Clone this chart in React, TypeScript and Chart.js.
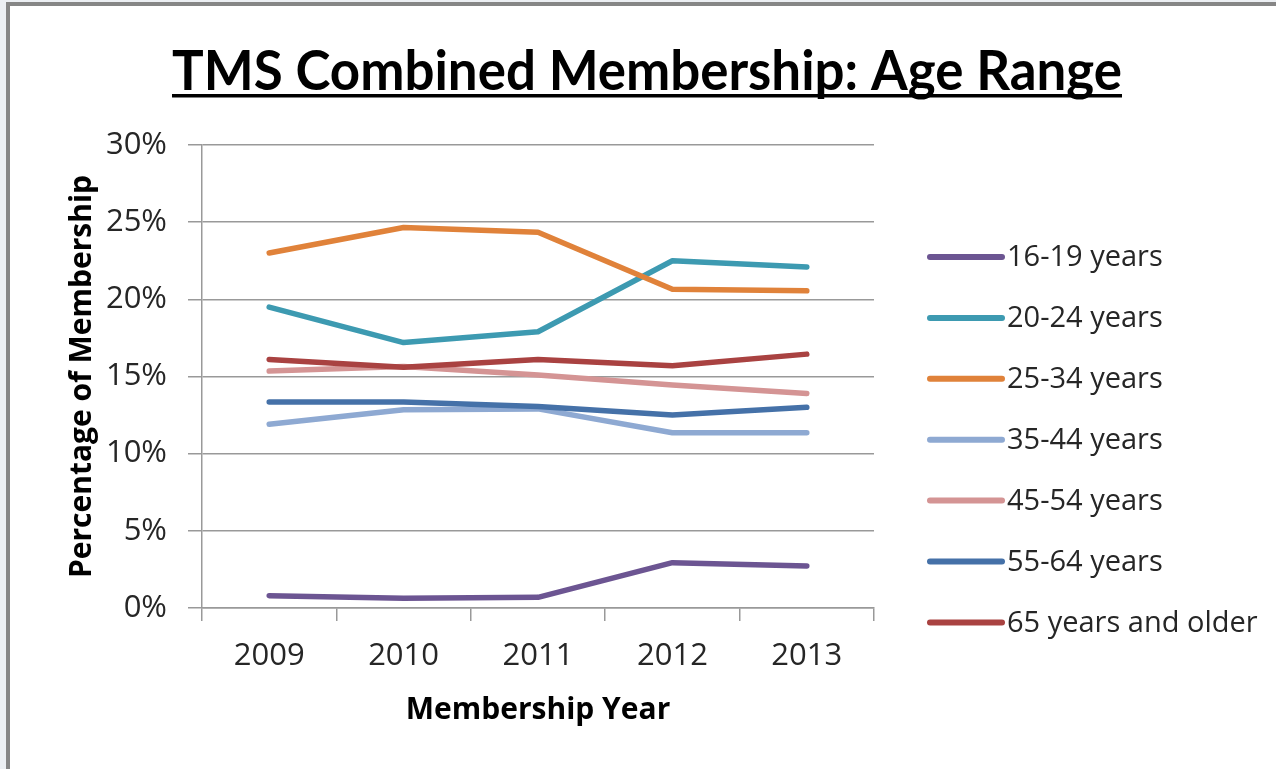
import React, { useEffect, useRef } from 'react';
import { Chart, registerables } from 'chart.js';

Chart.register(...registerables);

// ---- data ----
const years = ['2009', '2010', '2011', '2012', '2013'];
const seriesNames = [
  '16-19 years',
  '20-24 years',
  '25-34 years',
  '35-44 years',
  '45-54 years',
  '55-64 years',
  '65 years and older',
];
const age16to19 = [0.8, 0.63, 0.69, 2.94, 2.72];
const age20to24 = [19.5, 17.2, 17.9, 22.5, 22.1];
const age25to34 = [23.0, 24.65, 24.35, 20.65, 20.55];
const age35to44 = [11.9, 12.85, 12.9, 11.35, 11.35];
const age45to54 = [15.35, 15.65, 15.1, 14.45, 13.9];
const age55to64 = [13.35, 13.35, 13.05, 12.5, 13.0];
const age65plus = [16.1, 15.6, 16.1, 15.7, 16.45];
const seriesValues = [age16to19, age20to24, age25to34, age35to44, age45to54, age55to64, age65plus];
const seriesColors = ['#6c5592', '#3d9ab1', '#e0823a', '#8ea9d2', '#d49494', '#4571a8', '#a94241'];
const yMin = 0;
const yMax = 30;
const yStep = 5;
const chartTitle = 'TMS Combined Membership: Age Range';
const xTitle = 'Membership Year';
const yTitle = 'Percentage of Membership';

const TEXT = '#262626';
const GRID = '#999999';
const REG_FONT = '"Open Sans", "DejaVu Sans", sans-serif';

const titlePlugin = {
  id: 'customTitle',
  afterDraw(chart: any) {
    const ctx = chart.ctx;
    ctx.save();
    ctx.font = 'bold 55px Lato, "Open Sans", sans-serif';
    ctx.fillStyle = '#000';
    ctx.textBaseline = 'alphabetic';
    ctx.textAlign = 'center';
    const targetW = 950;
    const w = ctx.measureText(chartTitle).width;
    const sx = targetW / w;
    const cx = 647;
    ctx.translate(cx, 90);
    ctx.scale(sx, 1);
    ctx.fillText(chartTitle, 0, 0);
    ctx.restore();
    ctx.save();
    ctx.fillStyle = '#000';
    ctx.fillRect(cx - targetW / 2, 94, targetW, 3.5);
    ctx.restore();
  },
};

const legendPlugin = {
  id: 'customLegend',
  afterDraw(chart: any) {
    const ctx = chart.ctx;
    const area = chart.chartArea;
    const x0 = area.right + 56;
    const x1 = area.right + 128;
    const top = area.top + 112;
    const gap = 60.9;
    ctx.save();
    ctx.font = '29px ' + REG_FONT;
    ctx.textBaseline = 'middle';
    ctx.textAlign = 'left';
    chart.data.datasets.forEach((ds: any, i: number) => {
      const y = top + i * gap;
      ctx.strokeStyle = ds.borderColor;
      ctx.lineWidth = 6;
      ctx.lineCap = 'round';
      ctx.beginPath();
      ctx.moveTo(x0, y);
      ctx.lineTo(x1, y);
      ctx.stroke();
      ctx.fillStyle = TEXT;
      ctx.fillText(ds.label, x1 + 5, y + 1);
    });
    ctx.restore();
  },
};

export default function App() {
  const canvasRef = useRef<HTMLCanvasElement | null>(null);

  useEffect(() => {
    if (!canvasRef.current) return;
    const datasets = seriesNames.map((name, i) => ({
      label: name,
      data: seriesValues[i],
      borderColor: seriesColors[i],
      backgroundColor: seriesColors[i],
      borderWidth: 5.5,
      borderCapStyle: 'round' as const,
      borderJoinStyle: 'round' as const,
      pointRadius: 0,
      pointHoverRadius: 0,
      tension: 0,
      fill: false,
      order: -i,
    }));

    const chart = new Chart(canvasRef.current, {
      type: 'line',
      data: { labels: years, datasets },
      options: {
        responsive: false,
        animation: false,
        devicePixelRatio: 1,
        layout: { padding: { left: 0, right: 402, top: 145, bottom: 0 } },
        plugins: {
          legend: { display: false },
          title: { display: false },
          tooltip: { enabled: false },
        },
        scales: {
          x: {
            type: 'category',
            offset: true,
            afterFit: (scale: any) => {
              scale.height = 161;
            },
            grid: {
              offset: true,
              drawOnChartArea: false,
              drawTicks: true,
              tickLength: 13,
              color: GRID,
              lineWidth: 1.5,
            },
            border: { display: true, color: GRID, width: 1.5 },
            ticks: {
              color: TEXT,
              font: { family: REG_FONT, size: 31 },
              padding: 17,
              maxRotation: 0,
            },
            title: {
              display: true,
              text: xTitle,
              color: '#000',
              font: { family: REG_FONT, size: 30, weight: 'bold' },
              padding: { top: 0, bottom: 41 },
            },
          },
          y: {
            min: yMin,
            max: yMax,
            afterFit: (scale: any) => {
              scale.width = 202;
            },
            grid: {
              color: GRID,
              lineWidth: 1.5,
              drawTicks: true,
              tickLength: 14,
            },
            border: { display: true, color: GRID, width: 1.5 },
            ticks: {
              stepSize: yStep,
              color: TEXT,
              font: { family: REG_FONT, size: 31 },
              padding: 21,
              callback: (v: any) => v + '%',
            },
            title: {
              display: true,
              text: yTitle,
              color: '#000',
              font: { family: REG_FONT, size: 30, weight: 'bold' },
              padding: { top: 64, bottom: 0 },
            },
          },
        },
      },
      plugins: [titlePlugin, legendPlugin],
    });
    return () => chart.destroy();
  }, []);

  return (
    <div style={{ position: 'fixed', left: 0, top: 0, width: 1276, height: 769, background: '#fff', overflow: 'hidden' }}>
      <canvas ref={canvasRef} width={1276} height={769} style={{ display: 'block', position: 'absolute', left: 0, top: 0 }} />
      <div style={{ position: 'absolute', left: 0, top: 0, width: 6, height: 769, background: '#eceff3' }} />
      <div style={{ position: 'absolute', left: 6, top: 0, width: 1270, height: 2, background: '#eceff3' }} />
      <div style={{ position: 'absolute', left: 6, top: 2, width: 4, height: 767, background: '#868686' }} />
      <div style={{ position: 'absolute', left: 6, top: 2, width: 1270, height: 4, background: '#868686' }} />
    </div>
  );
}
